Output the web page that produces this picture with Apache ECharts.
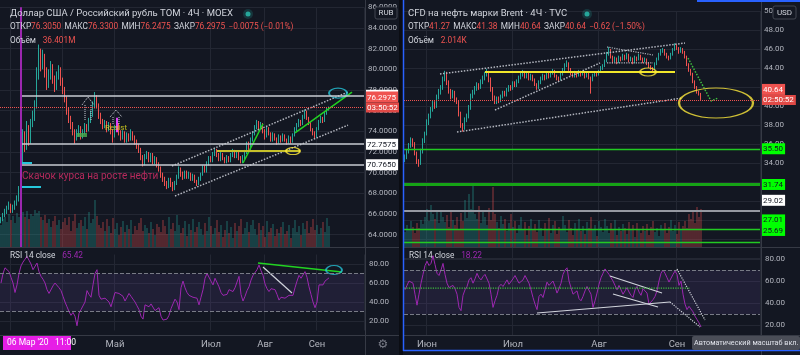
<!DOCTYPE html>
<html><head><meta charset="utf-8">
<script src="https://cdn.jsdelivr.net/npm/echarts/dist/echarts.min.js"></script>
<style>html,body{margin:0;padding:0;background:#131722;overflow:hidden}#c{width:800px;height:355px}</style>
</head><body><div id="c"></div>
<script>
// ---------- DATA ----------
// USD/RUB TOM 4H, [open, close, low, high]
const leftCandles = [
[65.3,65.5,65.1,65.7],[65.5,65.9,65.3,66.1],[65.9,66.2,65.7,66.5],[66.2,66.6,66.0,66.8],[66.6,66.9,66.4,67.2],
[66.9,66.3,66.1,67.0],[66.3,66.6,66.1,66.9],[66.6,67.0,66.4,67.3],[67.0,67.4,66.8,67.8],[67.4,68.4,67.2,68.7],
[68.6,71.5,68.5,72.0],[71.5,73.5,71.0,74.2],[73.5,72.6,72.0,74.0],[72.6,74.3,72.2,75.0],[74.3,73.0,72.6,74.6],
[73.0,74.8,72.8,75.2],[74.8,75.5,74.4,76.0],[75.5,76.5,75.0,77.0],[76.5,79.5,76.2,80.2],[79.5,81.5,79.0,82.4],
[81.5,80.5,79.8,82.0],[80.5,81.2,80.0,81.9],[81.2,79.8,79.2,81.5],[79.8,78.5,78.0,80.2],[78.5,79.5,78.2,80.0],
[79.5,80.3,79.0,80.8],[80.3,79.0,78.6,80.5],[79.0,78.2,77.8,79.4],[78.2,79.3,78.0,79.8],[79.3,80.0,79.0,80.4],
[80.0,78.8,78.4,80.2],[78.8,78.0,77.6,79.2],[78.0,77.2,76.8,78.3],[77.2,76.0,75.6,77.4],[76.0,75.2,74.8,76.3],
[75.2,74.6,74.2,75.5],[74.6,74.0,73.6,74.9],[74.0,73.3,72.8,74.2],[73.3,73.8,73.1,74.2],[73.8,74.3,73.5,74.6],
[74.3,73.6,73.2,74.5],[73.6,73.9,73.3,74.2],[73.9,74.5,73.7,74.8],[74.5,74.2,73.9,74.7],[74.2,75.0,74.0,75.3],
[75.0,75.6,74.8,76.0],[75.6,76.5,75.4,76.9],[76.5,77.3,76.2,77.8],[77.3,76.5,76.2,77.5],[76.5,75.5,75.2,76.7],
[75.5,75.0,74.7,75.8],[75.0,74.5,74.2,75.2],[74.5,74.8,74.3,75.1],[74.8,74.2,73.9,75.0],[74.2,74.6,74.0,74.9],
[74.6,74.0,73.7,74.8],[74.0,73.6,72.9,74.2],[73.6,74.3,73.4,74.6],[74.3,74.6,74.0,74.9],[74.6,73.9,73.6,74.8],
[73.9,73.4,73.1,74.1],[73.4,73.8,73.2,74.1],[73.8,73.1,72.9,74.0],[73.1,73.6,72.9,73.9],[73.6,73.3,73.0,73.8],
[73.3,73.8,73.1,74.2],[73.8,73.4,73.1,74.0],[73.4,73.0,72.7,73.6],[73.0,72.6,72.3,73.2],[72.6,72.2,71.9,72.8],
[72.2,71.5,71.2,72.4],[71.5,70.9,70.6,71.7],[70.9,71.5,70.7,71.8],[71.5,71.8,71.3,72.1],[71.8,71.2,71.0,72.0],
[71.2,71.7,71.0,71.9],[71.7,71.0,70.8,71.9],[71.0,71.4,70.8,71.6],[71.4,70.8,70.5,71.5],[70.8,70.4,70.1,71.0],
[70.4,69.8,69.5,70.6],[69.8,69.4,69.1,70.0],[69.4,69.0,68.7,69.6],[69.0,68.7,68.4,69.2],[68.7,69.3,68.5,69.5],
[69.3,68.9,68.6,69.5],[68.9,68.5,68.2,69.1],[68.5,69.0,68.3,69.2],[69.0,69.6,68.8,69.8],[69.6,70.3,69.4,70.6],
[70.3,69.9,69.6,70.5],[69.9,69.6,69.3,70.1],[69.6,70.0,69.4,70.2],[70.0,69.6,69.4,70.2],[69.6,69.9,69.4,70.1],
[69.9,69.4,69.2,70.0],[69.4,69.7,69.2,69.9],[69.7,69.2,69.0,69.8],[69.2,68.9,68.7,69.3],[68.9,69.4,68.8,69.6],
[69.4,69.8,69.2,70.0],[69.8,70.5,69.7,70.7],[70.5,70.2,70.0,70.7],[70.2,70.9,70.0,71.1],[70.9,71.4,70.7,71.6],
[71.4,71.2,71.0,71.6],[71.2,71.8,71.0,72.0],[71.8,72.2,71.6,72.4],[72.2,71.7,71.5,72.3],[71.7,71.3,71.1,71.9],
[71.3,71.8,71.1,72.0],[71.8,71.4,71.2,71.9],[71.4,71.1,70.9,71.5],[71.1,71.5,70.9,71.7],[71.5,71.2,71.0,71.6],
[71.2,71.7,71.0,71.9],[71.7,72.1,71.5,72.3],[72.1,71.6,71.4,72.2],[71.6,71.9,71.4,72.1],[71.9,71.4,71.2,72.0],
[71.4,71.0,70.9,71.6],[71.0,71.5,70.9,71.7],[71.5,72.0,71.3,72.2],[72.0,72.8,71.8,73.0],[72.8,72.4,72.2,73.0],
[72.4,73.2,72.2,73.4],[73.2,73.8,73.0,74.0],[73.8,74.4,73.6,74.6],[74.4,74.9,74.2,75.1],[74.9,74.5,74.2,75.0],
[74.5,74.7,74.3,74.9],[74.7,74.0,73.8,74.8],[74.0,73.5,73.2,74.2],[73.5,74.3,73.4,74.5],[74.3,73.8,73.6,74.4],
[73.8,73.2,73.0,73.9],[73.2,73.7,73.0,73.9],[73.7,73.3,73.1,73.8],[73.3,72.9,72.7,73.4],[72.9,73.5,72.8,73.7],
[73.5,73.1,72.9,73.6],[73.1,73.6,73.0,73.8],[73.6,73.2,73.0,73.7],[73.2,72.9,72.7,73.3],[72.9,73.4,72.8,73.6],
[73.4,73.0,72.8,73.5],[73.0,73.6,72.9,73.8],[73.6,74.2,73.5,74.4],[74.2,74.6,74.0,74.8],[74.6,75.0,74.4,75.2],
[75.0,74.7,74.5,75.1],[74.7,75.4,74.6,75.6],[75.4,75.9,75.2,76.1],[75.9,75.3,75.1,76.0],[75.3,74.8,74.6,75.4],
[74.8,74.2,74.0,74.9],[74.2,73.8,73.6,74.3],[73.8,73.5,73.3,74.0],[73.5,74.2,73.4,74.4],[74.2,74.9,74.1,75.1],
[74.9,75.3,74.8,75.5],[75.3,75.0,74.8,75.4],[75.0,75.7,74.9,75.9],[75.7,76.1,75.6,76.3],[76.1,76.2975,76.0,76.4]
];
const leftVolume = [
22,28,30,25,33,27,31,24,34,30, 37,35,30,36,28,33,31,37,34,36, 30,27,32,24,28,20,26,31,22,27,
18,25,29,22,30,16,26,33,19,24, 27,21,30,18,35,24,28,47,31,22, 19,25,16,28,21,14,29,18,24,12,
20,26,15,22,18,27,13,21,17,24, 29,16,22,19,14,25,18,12,23,20, 15,27,21,13,30,18,24,16,32,22,
14,19,26,11,23,17,28,15,20,25, 18,12,24,16,30,21,13,19,27,15, 22,10,17,26,14,20,9,24,16,21,
28,13,19,25,15,22,27,18,12,24, 17,21,10,26,15,19,23,11,18,14, 20,25,13,16,22,9,19,27,15,21,
12,24,18,26,14,20,28,17,22,13, 19,25,15,29,21
];
const leftRsi = [
60,70,76,75,72,66,60,50,58,70, 78,82,85,88,84,80,74,76,81,72, 67,64,60,53,49,47,57,60,58,55,
52,46,40,35,30,26,29,25,15,28, 32,30,40,52,48,45,58,70,74,47, 43,42,44,42,40,35,33,50,51,49,
47,46,41,45,49,46,43,40,36,32, 25,22,37,38,35,38,36,31,33,34, 25,21,19,22,26,33,38,43,40,32,
55,62,55,50,47,46,45,46,44,37, 45,53,65,70,72,62,58,65,63,56, 50,47,45,48,53,52,51,55,61,67,
48,41,46,52,56,63,68,70,74,79, 73,68,59,54,51,54,56,53,48,42, 45,47,44,46,47,46,47,55,62,68,
65,66,72,66,56,48,40,34,40,58, 56,58,62,64,65.42
];
// Brent CFD 4H, [open, close, low, high]
const rightCandles = [
[34.3,34.6,34.1,34.9],[34.6,35.2,34.4,35.4],[35.2,35.8,35.0,36.1],[35.8,36.4,35.6,36.7],[36.4,36.0,35.7,36.6],
[36.0,35.0,34.8,36.2],[35.0,34.2,33.9,35.2],[34.2,33.9,33.6,34.4],[33.9,35.2,33.8,35.5],[35.2,36.3,35.0,36.6],
[36.3,37.0,36.1,37.3],[37.0,38.3,36.9,38.6],[38.3,38.9,38.0,39.2],[38.9,39.6,38.7,39.9],[39.6,40.3,39.4,40.6],
[40.3,40.0,39.7,40.5],[40.0,40.9,39.8,41.2],[40.9,41.5,40.7,41.8],[41.5,41.9,41.2,42.2],[41.9,42.8,41.7,43.1],
[42.8,43.4,42.6,43.7],[43.4,42.5,42.2,43.6],[42.5,41.6,41.3,42.7],[41.6,41.0,40.7,41.8],[41.0,41.4,40.8,41.7],
[41.4,40.7,40.4,41.6],[40.7,40.5,40.2,40.9],[40.5,39.2,38.9,40.6],[39.2,38.0,37.7,39.4],[38.0,37.6,37.3,38.2],
[37.6,38.5,37.5,38.8],[38.5,38.9,38.3,39.2],[38.9,39.8,38.7,40.1],[39.8,41.0,39.6,41.3],[41.0,41.4,40.8,41.7],
[41.4,41.8,41.2,42.1],[41.8,42.2,41.6,42.5],[42.2,42.0,41.7,42.4],[42.0,42.5,41.8,42.8],[42.5,42.9,42.3,43.2],
[42.9,43.3,42.7,43.6],[43.3,43.6,43.1,43.9],[43.6,42.8,42.5,43.7],[42.8,41.8,41.5,43.0],[41.8,40.9,40.6,42.0],
[40.9,40.4,40.2,41.1],[40.4,40.8,40.2,41.0],[40.8,40.5,40.3,41.0],[40.5,41.0,40.4,41.2],[41.0,41.4,40.8,41.6],
[41.4,41.2,41.0,41.6],[41.2,41.7,41.0,41.9],[41.7,42.0,41.5,42.2],[42.0,41.8,41.6,42.2],[41.8,42.4,41.7,42.6],
[42.4,42.2,42.0,42.6],[42.2,42.6,42.0,42.8],[42.6,43.0,42.4,43.2],[43.0,43.3,42.8,43.5],[43.3,43.5,43.1,43.8],
[43.5,43.1,42.9,43.7],[43.1,43.4,42.9,43.6],[43.4,42.9,42.7,43.5],[42.9,43.2,42.7,43.4],[43.2,42.8,42.6,43.3],
[42.8,42.3,42.1,42.9],[42.3,41.9,41.7,42.4],[41.9,42.5,41.8,42.7],[42.5,42.9,42.3,43.1],[42.9,43.2,42.7,43.4],
[43.2,42.9,42.7,43.3],[42.9,43.3,42.8,43.5],[43.3,43.1,42.9,43.5],[43.1,43.5,43.0,43.7],[43.5,43.7,43.3,43.9],
[43.7,43.2,43.0,43.8],[43.2,42.9,42.7,43.3],[42.9,42.8,42.6,43.1],[42.8,43.3,42.7,43.5],[43.3,43.8,43.2,44.0],
[43.8,44.3,43.6,44.5],[44.3,44.5,44.1,44.8],[44.5,43.9,43.7,44.6],[43.9,43.4,43.2,44.0],[43.4,43.2,43.0,43.6],
[43.2,43.5,43.0,43.7],[43.5,43.2,43.0,43.6],[43.2,43.6,43.1,43.8],[43.6,43.3,43.1,43.7],[43.3,43.5,43.2,43.7],
[43.5,43.1,42.9,43.6],[43.1,43.4,43.0,43.6],[43.4,43.0,42.8,43.5],[43.0,42.8,41.3,43.1],[42.8,43.2,42.6,43.4],
[43.2,43.4,43.1,43.6],[43.4,43.3,43.1,43.6],[43.3,43.6,43.2,43.8],[43.6,44.0,43.5,44.2],[44.0,44.2,43.8,44.4],
[44.2,44.7,44.1,44.9],[44.7,45.5,44.6,45.7],[45.5,45.9,45.3,46.2],[45.9,45.2,45.0,46.0],[45.2,44.7,44.5,45.3],
[44.7,45.0,44.6,45.2],[45.0,44.6,44.4,45.1],[44.6,45.1,44.5,45.3],[45.1,44.9,44.7,45.2],[44.9,45.3,44.8,45.5],
[45.3,45.0,44.8,45.4],[45.0,45.4,44.9,45.6],[45.4,44.8,44.6,45.5],[44.8,45.0,44.7,45.2],[45.0,44.6,44.4,45.1],
[44.6,45.1,44.5,45.3],[45.1,44.9,44.7,45.2],[44.9,45.3,44.8,45.5],[45.3,45.0,44.8,45.4],[45.0,44.7,44.5,45.1],
[44.7,44.9,44.6,45.1],[44.9,44.5,44.3,45.0],[44.5,44.2,44.0,44.6],[44.2,44.0,43.8,44.3],[44.0,43.9,43.6,44.1],
[43.9,44.4,43.8,44.6],[44.4,44.9,44.3,45.1],[44.9,45.4,44.8,45.6],[45.4,45.8,45.3,46.0],[45.8,45.9,45.6,46.1],
[45.9,45.5,45.3,46.0],[45.5,45.2,45.0,45.6],[45.2,45.0,44.8,45.3],[45.0,45.4,44.9,45.6],[45.4,45.9,45.3,46.1],
[45.9,46.3,45.8,46.6],[46.3,46.1,45.9,46.5],[46.1,45.7,45.5,46.2],[45.7,46.0,45.6,46.2],[46.0,45.7,45.5,46.1],
[45.7,45.2,45.0,45.8],[45.2,44.4,44.2,45.3],[44.4,43.8,43.6,44.5],[43.8,43.4,43.2,43.9],[43.4,42.6,42.4,43.5],
[42.6,42.0,41.8,42.7],[42.0,41.5,41.3,42.1],[41.5,41.27,41.1,41.6],[41.27,40.64,40.64,41.38]
];
const rightVolume = [
15,22,18,26,20,14,24,19,27,23, 30,38,26,42,33,28,35,24,37,30, 25,32,20,36,27,22,30,18,34,26,
47,29,53,38,61,33,28,41,24,36, 30,22,39,27,60,33,25,19,31,23, 28,16,24,33,20,26,14,22,30,18,
25,12,21,28,17,23,15,27,19,11, 24,18,29,14,22,26,13,20,17,31, 22,15,27,19,12,24,18,28,16,21,
13,25,19,30,17,22,11,26,20,15, 28,21,14,24,18,27,12,20,16,23, 19,13,25,17,22,10,24,18,14,21,
16,23,12,20,26,15,19,11,22,17, 24,14,20,27,16,22,13,25,18,21, 26,19,33,28,36,24,40,30,38
];
const rightRsi = [
52,56,60,61,58,48,38,48,58,66, 74,78,74,76,83,75,67,65,70,76, 66,58,54,53,56,53,48,36,33,47,
52,55,61,63,58,62,67,63,61,64, 66,67,58,48,36,42,47,55,57,55, 58,61,57,58,62,65,66,58,57,61,
65,66,58,52,45,39,34,46,48,45, 52,59,56,57,60,55,49,53,58,66, 70,72,60,54,48,49,51,44,42,46,
51,55,54,48,36,42,49,57,63,67, 71,72,66,63,60,56,52,56,55,48, 51,54,50,47,45,52,55,50,47,53,
52,49,39,38,43,46,51,60,67,70, 67,63,59,60,66,69,66,56,60,48, 39,34,37,36,32,28,25,22,18.22
];
// axis ticks / slots
const leftSlots = 182, rightSlots = 178;
const leftTickIdx = [5, 31, 57, 105, 132, 158];
const leftTickLbl = ['', '', 'Май', 'Июл', 'Авг', 'Сен'];
const rightTickIdx = [11, 54, 97, 136];
const rightTickLbl = ['Июн', 'Июл', 'Авг', 'Сен'];
// horizontal levels
const leftWhiteLevels = [77.4825, 72.7575, 70.765];
const leftLast = 76.2975, leftCountdown = '03:50:52';
const rightGreenLevels = [35.50, 31.74, 27.01, 25.69];
const rightGrayLevels = [29.02];
const rightLast = 40.64, rightCountdown = '02:50:52';
const crossIdx = 10;
// drawings [index, value]
const lChanUp = [[85.5, 70.64], [173.5, 77.8]];
const lChanDn = [[87, 67.74], [173.5, 74.6]];
const lGreen1 = [[121, 70.93], [131, 74.71]];
const lGreen2 = [[147, 73.84], [175.5, 77.8]];
const lYellow = [[108, 72.09], [149.5, 72.09]];
const lCyan1 = [[10, 68.61], [20, 68.61]];
const lCyan2 = [[10.5, 70.93], [15.5, 70.93]];
const lArrowA = [[40.5, 76.55], [43.5, 77.32], [46.5, 76.55]];
const lArrowAs = [[[42, 76.55], [42, 75.09]], [[45, 76.55], [45, 75.09]]];
const lArrowB = [[54.5, 75.38], [57.5, 76.06], [60.5, 75.38]];
const lArrowBs = [[[56, 75.38], [56, 74.7]], [[59, 75.38], [59, 74.7]]];
const lMagenta = [[58, 75.3], [58, 73.9]];
const lYellowEll = [146, 72.09], lCyanEll = [168.5, 77.7];
const lNote = [10.5, 69.58];
const lResist = [52, 74.3];
const lGreenBox = [40.5, 73.64];
const lRsiGreen = [[128.5, 81], [170.5, 71.6]];
const lRsiWhite = [[131, 76.8], [145.5, 49.5]];
const lRsiEll = [166.5, 73.7];
const rChanUp = [[17.5, 43.37], [140, 46.63]];
const rChanDn = [[26, 37.26], [138.5, 40.84]];
const rInner = [[45, 39.58], [97.5, 44.53]];
const rFlagTop = [[101, 46.21], [124, 45.37]];
const rFlagBot = [[101, 44.53], [124, 44.53]];
const rYellow = [[40, 43.58], [135, 43.58]];
const rEllSmall = [121.5, 43.58], rEllBig = [155.5, 40.32];
const rGreenDot = [[141.5, 45.05], [153, 40.53], [156.5, 40.84]];
const rRsiW1 = [[66, 30.9], [132.5, 40.9]];
const rRsiW2 = [[102.5, 64.5], [128.5, 49.1]];
const rRsiW3 = [[104, 48.2], [126.5, 36.4]];
const rRsiD1 = [[136, 70.9], [150, 24.5]];
const rRsiD2 = [[132.5, 40.9], [147.5, 18.2]];
const rRsiGreen = [[-0.5, 53.5], [142.5, 53.5]];

// ---------- STYLE ----------
const FONT = 'Roboto, "Noto Sans", sans-serif';
const GRIDC = '#232733', TXT = '#b2b5be', UP = '#26a69a', DN = '#ef5350', RSIC = '#9c27b0';
const AX_FS = 8;

const chart = echarts.init(document.getElementById('c'), null, {renderer: 'canvas'});
const cats = n => Array.from({length: n}, (_, i) => String(i));
function catAxis(g, n, ti, tl, showLbl, margin) {
  return {type: 'category', gridIndex: g, data: cats(n), boundaryGap: true,
    axisLine: {show: false}, axisTick: {show: false},
    axisLabel: {show: showLbl, interval: i => ti.includes(i), formatter: (v, i) => tl[ti.indexOf(i)] || '',
      color: TXT, fontSize: 9.5, margin: margin, fontFamily: FONT},
    splitLine: {show: true, interval: i => ti.includes(i), lineStyle: {color: GRIDC, width: 1}}};
}
const valX = (g, n) => ({type: 'value', gridIndex: g, min: -0.5, max: n - 0.5, show: false});
function vols(c, v) {
  return v.map((x, i) => ({value: x, itemStyle: {color: c[i][1] >= c[i][0] ? 'rgba(38,166,154,0.45)' : 'rgba(239,83,80,0.45)'}}));
}
function seg(xi, yi, pts, color, width, type) {
  return {type: 'line', xAxisIndex: xi, yAxisIndex: yi, data: pts, symbol: 'none', silent: true, z: 4,
    lineStyle: {color: color, width: width, type: type || 'solid'}};
}
function ell(xi, yi, pt, size, color) {
  return {type: 'scatter', xAxisIndex: xi, yAxisIndex: yi, data: [pt], symbol: 'circle', symbolSize: size, silent: true, z: 4,
    itemStyle: {color: 'transparent', borderColor: color, borderWidth: 1.5}};
}
function txt(xi, yi, pt, text, color, size) {
  return {type: 'scatter', xAxisIndex: xi, yAxisIndex: yi, data: [pt], symbolSize: 0, silent: true, z: 5,
    label: {show: true, position: 'right', distance: 0, formatter: text, color: color, fontSize: size, fontFamily: FONT}};
}
function level(xi, yi, x0, x1, val, lc, lw, ltype, lbl, bg, fg, shift) {
  const pad = shift ? '\n{c| }' : '';
  return {type: 'line', xAxisIndex: xi, yAxisIndex: yi, data: [], silent: true, z: 4,
    markLine: {symbol: ['none', 'none'], silent: true, animation: false,
      lineStyle: {color: lc, width: lw, type: ltype},
      label: {show: true, position: 'end', distance: 1, formatter: '{a|' + lbl + '}' + pad,
        rich: {a: {backgroundColor: bg, color: fg, fontSize: AX_FS, fontFamily: FONT, padding: [2, 2, 1, 2]},
               c: {height: shift || 1, fontSize: 8}}},
      data: [[{coord: [x0, val]}, {coord: [x1, val]}]]}};
}
function lastLevel(xi, yi, x0, x1, val, lbl, cd) {
  return {type: 'line', xAxisIndex: xi, yAxisIndex: yi, data: [], silent: true, z: 4,
    markLine: {symbol: ['none', 'none'], silent: true,
      lineStyle: {color: DN, width: 1, type: 'dotted'},
      label: {show: true, position: 'end', distance: 1, formatter: '{a|' + lbl + '}\n{b|' + cd + '}\n{c| }',
        rich: {a: {backgroundColor: DN, color: '#fff', fontSize: AX_FS, fontFamily: FONT, padding: [2, 2, 1, 2]},
               b: {backgroundColor: '#e04946', color: '#fff', fontSize: AX_FS, fontFamily: FONT, padding: [1, 2, 1, 2]},
               c: {height: 11, fontSize: 8}}},
      data: [[{coord: [x0, val]}, {coord: [x1, val]}]]}};
}

const series = [];
// left price
series.push({type: 'candlestick', xAxisIndex: 0, yAxisIndex: 0, data: leftCandles, barWidth: 1.2,
  itemStyle: {color: UP, color0: DN, borderColor: UP, borderColor0: DN, borderWidth: 1},
  markLine: {symbol: ['none', 'none'], silent: true, label: {show: false}, lineStyle: {color: RSIC, width: 2, type: 'solid'}, data: [{xAxis: crossIdx}]}});
series.push({type: 'bar', xAxisIndex: 1, yAxisIndex: 1, data: vols(leftCandles, leftVolume), barWidth: 1.3,
  markLine: {symbol: ['none', 'none'], silent: true, label: {show: false}, lineStyle: {color: RSIC, width: 2, type: 'solid'}, data: [{xAxis: crossIdx}]}});
series.push({type: 'line', xAxisIndex: 2, yAxisIndex: 2, data: leftRsi, symbol: 'none', lineStyle: {color: RSIC, width: 1},
  markArea: {silent: true, itemStyle: {color: 'rgba(126,87,194,0.13)'}, data: [[{yAxis: 30}, {yAxis: 70}]]},
  markLine: {silent: true, symbol: ['none', 'none'], label: {show: false}, lineStyle: {color: '#787b86', type: 'dashed', width: 1}, data: [{yAxis: 70}, {yAxis: 30}]}});
// right
series.push({type: 'candlestick', xAxisIndex: 3, yAxisIndex: 3, data: rightCandles, barWidth: 1.2,
  itemStyle: {color: UP, color0: DN, borderColor: UP, borderColor0: DN, borderWidth: 1}});
series.push({type: 'bar', xAxisIndex: 4, yAxisIndex: 4, data: vols(rightCandles, rightVolume), barWidth: 1.3});
series.push({type: 'line', xAxisIndex: 5, yAxisIndex: 5, data: rightRsi, symbol: 'none', lineStyle: {color: RSIC, width: 1},
  markArea: {silent: true, itemStyle: {color: 'rgba(126,87,194,0.13)'}, data: [[{yAxis: 30}, {yAxis: 70}]]},
  markLine: {silent: true, symbol: ['none', 'none'], label: {show: false}, lineStyle: {color: '#787b86', type: 'dashed', width: 1}, data: [{yAxis: 70}, {yAxis: 30}]}});

// left drawings (xAxis 6 / yAxis 0)
leftWhiteLevels.forEach(v => series.push(level(6, 0, 10.5, leftSlots - 0.5, v, '#c9ccd3', 1.5, 'solid', v.toFixed(4), '#ffffff', '#131722', 0)));
series.push(lastLevel(6, 0, -0.5, leftSlots - 0.5, leftLast, leftLast.toFixed(4), leftCountdown));
series.push(seg(6, 0, lChanUp, '#b2b5be', 1.5, 'dotted'));
series.push(seg(6, 0, lChanDn, '#b2b5be', 1.5, 'dotted'));
series.push(seg(6, 0, lGreen1, '#22d322', 1.5));
series.push(seg(6, 0, lGreen2, '#22d322', 1.5));
series.push(seg(6, 0, lYellow, '#c6c02a', 2));
series.push(seg(6, 0, lCyan1, '#26c6da', 2));
series.push(seg(6, 0, lCyan2, '#26c6da', 2));
series.push(seg(6, 0, lArrowA, '#d1d4dc', 1, 'dotted'));
lArrowAs.forEach(s => series.push(seg(6, 0, s, '#d1d4dc', 1, 'dotted')));
series.push(seg(6, 0, lArrowB, '#d1d4dc', 1, 'dotted'));
lArrowBs.forEach(s => series.push(seg(6, 0, s, '#d1d4dc', 1, 'dotted')));
series.push(seg(6, 0, lMagenta, '#e040fb', 2));
series.push(ell(6, 0, lYellowEll, [14, 7], '#ffeb3b'));
series.push(ell(6, 0, lCyanEll, [18, 10], '#26c6da'));
series.push({type: 'scatter', xAxisIndex: 6, yAxisIndex: 0, data: [lGreenBox], symbol: 'rect', symbolSize: [10, 4], silent: true, z: 4, itemStyle: {color: '#4caf50'}});
series.push(txt(6, 0, lResist, 'Resist', '#e6e21e', 8));
series.push(txt(6, 0, lNote, 'Скачок курса на росте нефти', '#e0306b', 10));
// left RSI drawings (xAxis 7 / yAxis 2)
series.push(seg(7, 2, lRsiGreen, '#22d322', 1.5));
series.push(seg(7, 2, lRsiWhite, '#d1d4dc', 1.2));
series.push(ell(7, 2, lRsiEll, [16, 9], '#26c6da'));
// right drawings (xAxis 8 / yAxis 3)
const greenShift = [0, 0, 19, 23];
rightGreenLevels.forEach((v, i) => series.push(level(8, 3, -0.5, rightSlots - 0.5, v, i === 1 ? '#16a316' : '#22c922', i === 1 ? 3 : 1.3, 'solid', v.toFixed(2), '#00ff00', '#131722', greenShift[i])));
rightGrayLevels.forEach(v => series.push(level(8, 3, -0.5, rightSlots - 0.5, v, '#9598a1', 2, 'solid', v.toFixed(2), '#ffffff', '#131722', 20)));
series.push(lastLevel(8, 3, -0.5, rightSlots - 0.5, rightLast, rightLast.toFixed(2), rightCountdown));
series.push(seg(8, 3, rChanUp, '#b2b5be', 1.5, 'dotted'));
series.push(seg(8, 3, rChanDn, '#b2b5be', 1.5, 'dotted'));
series.push(seg(8, 3, rInner, '#b2b5be', 1.5, 'dotted'));
series.push(seg(8, 3, rFlagTop, '#b2b5be', 1.2, 'dotted'));
series.push(seg(8, 3, rFlagBot, '#b2b5be', 1.2, 'dotted'));
series.push(seg(8, 3, rYellow, '#f0e62a', 2));
series.push(ell(8, 3, rEllSmall, [16, 8], '#ffeb3b'));
series.push(ell(8, 3, rEllBig, [74, 30], '#ffeb3b'));
series.push(seg(8, 3, rGreenDot, '#3fbf3f', 1.5, 'dotted'));
// right RSI drawings (xAxis 9 / yAxis 5)
series.push(seg(9, 5, rRsiW1, '#d1d4dc', 1.2));
series.push(seg(9, 5, rRsiW2, '#d1d4dc', 1.2));
series.push(seg(9, 5, rRsiW3, '#d1d4dc', 1.2));
series.push(seg(9, 5, rRsiD1, '#d1d4dc', 1.2, 'dotted'));
series.push(seg(9, 5, rRsiD2, '#d1d4dc', 1.2, 'dotted'));
series.push(seg(9, 5, rRsiGreen, '#3fbf3f', 1.2, 'dotted'));

const priceAxis = (g, min, max, dec, hideBelow) => ({type: 'value', gridIndex: g, position: 'right', min: min, max: max, interval: 2,
  axisLine: {show: false}, axisTick: {show: false},
  axisLabel: {color: TXT, fontSize: AX_FS, margin: 4, fontFamily: FONT, formatter: v => v < hideBelow ? '' : v.toFixed(dec)},
  splitLine: {lineStyle: {color: GRIDC, width: 1}}});
const rsiAxis = g => ({type: 'value', gridIndex: g, position: 'right', min: 10, max: 90, interval: 10,
  axisLine: {show: false}, axisTick: {show: false},
  axisLabel: {color: TXT, fontSize: AX_FS, margin: 5, fontFamily: FONT, formatter: v => (v % 20 === 0 && v >= 20 && v <= 80) ? v.toFixed(2) : ''},
  splitLine: {lineStyle: {color: ['transparent', GRIDC], width: 1}}});

const G = (l, t, w, h) => ({left: l, top: t, width: w, height: h, containLabel: false, outerBoundsMode: 'none'});
const HF = 8.3;
const rich2 = c => ({l: {fill: '#d1d4dc', fontSize: HF, fontFamily: FONT}, v: {fill: c, fontSize: HF, fontFamily: FONT}});

const option = {
  backgroundColor: '#131722', animation: false,
  textStyle: {fontFamily: FONT},
  grid: [G(0, 7.34, 364, 227.26), G(0, 197, 364, 50), G(0, 254.5, 364, 76),
         G(404, 11, 356, 247), G(404, 183, 356, 64), G(404, 248, 356, 88)],
  xAxis: [catAxis(0, leftSlots, leftTickIdx, leftTickLbl, false, 0),
          catAxis(1, leftSlots, leftTickIdx, leftTickLbl, false, 0),
          catAxis(2, leftSlots, leftTickIdx, leftTickLbl, true, 9.5),
          catAxis(3, rightSlots, rightTickIdx, rightTickLbl, false, 0),
          catAxis(4, rightSlots, rightTickIdx, rightTickLbl, false, 0),
          catAxis(5, rightSlots, rightTickIdx, rightTickLbl, true, 4),
          valX(0, leftSlots), valX(2, leftSlots), valX(3, rightSlots), valX(5, rightSlots)],
  yAxis: [priceAxis(0, 64, 86, 4, 0),
          {type: 'value', gridIndex: 1, min: 0, max: 50, show: false},
          rsiAxis(2),
          priceAxis(3, 24, 50, 2, 27),
          {type: 'value', gridIndex: 4, min: 0, max: 64, show: false},
          rsiAxis(5)],
  series: series,
  graphic: [
    {type: 'rect', z: 90, shape: {x: 399, y: 0, width: 4, height: 355}, style: {fill: '#0b0d13'}},
    {type: 'line', z: 90, shape: {x1: 365.5, y1: 0, x2: 365.5, y2: 355}, style: {stroke: '#363a45', lineWidth: 1}},
    {type: 'line', z: 90, shape: {x1: 761.5, y1: 0, x2: 761.5, y2: 355}, style: {stroke: '#363a45', lineWidth: 1}},
    {type: 'line', z: 90, shape: {x1: 0, y1: 247.5, x2: 399, y2: 247.5}, style: {stroke: '#363a45', lineWidth: 1}},
    {type: 'line', z: 90, shape: {x1: 404, y1: 247.5, x2: 800, y2: 247.5}, style: {stroke: '#363a45', lineWidth: 1}},
    {type: 'line', z: 90, shape: {x1: 0, y1: 335.5, x2: 399, y2: 335.5}, style: {stroke: '#363a45', lineWidth: 1}},
    {type: 'line', z: 90, shape: {x1: 404, y1: 335.5, x2: 800, y2: 335.5}, style: {stroke: '#363a45', lineWidth: 1}},
    {type: 'line', z: 95, shape: {x1: 403.5, y1: 0, x2: 403.5, y2: 351}, style: {stroke: '#2962ff', lineWidth: 1.5}},
    {type: 'line', z: 95, shape: {x1: 403, y1: 350.5, x2: 800, y2: 350.5}, style: {stroke: '#2962ff', lineWidth: 1.5}},
    {type: 'rect', z: 95, shape: {x: 697, y: 0, width: 103, height: 2}, style: {fill: '#2962ff'}},
    // headers left
    {type: 'text', z: 100, x: 10, y: 14, style: {text: 'Доллар США / Российский рубль TOM · 4Ч · MOEX', fill: '#d1d4dc', fontSize: 9.5, fontFamily: FONT, verticalAlign: 'middle'}},
    {type: 'circle', z: 100, shape: {cx: 248, cy: 14, r: 5}, style: {fill: 'rgba(38,166,154,0.22)'}},
    {type: 'circle', z: 100, shape: {cx: 248, cy: 14, r: 2.5}, style: {fill: '#26a69a'}},
    {type: 'text', z: 100, x: 10, y: 27, style: {text: '{l|ОТКР}{v|76.3050} {l|МАКС}{v|76.3300} {l|МИН}{v|76.2475} {l|ЗАКР}{v|76.2975} {v|−0.0075 (−0.01%)}',
      rich: rich2('#ef5350'), verticalAlign: 'middle'}},
    {type: 'text', z: 100, x: 10, y: 41, style: {text: '{l|Объём}  {v|36.401M}', rich: rich2('#ef5350'), verticalAlign: 'middle'}},
    // headers right
    {type: 'text', z: 100, x: 408, y: 14, style: {text: 'CFD на нефть марки Brent · 4Ч · TVC', fill: '#d1d4dc', fontSize: 9.5, fontFamily: FONT, verticalAlign: 'middle'}},
    {type: 'circle', z: 100, shape: {cx: 587, cy: 14, r: 5}, style: {fill: 'rgba(38,166,154,0.22)'}},
    {type: 'circle', z: 100, shape: {cx: 587, cy: 14, r: 2.5}, style: {fill: '#26a69a'}},
    {type: 'text', z: 100, x: 408, y: 27, style: {text: '{l|ОТКР}{v|41.27} {l|МАКС}{v|41.38} {l|МИН}{v|40.64} {l|ЗАКР}{v|40.64} {v|−0.62 (−1.50%)}',
      rich: rich2('#ef5350'), verticalAlign: 'middle'}},
    {type: 'text', z: 100, x: 408, y: 41, style: {text: '{l|Объём}  {v|2.014K}', rich: rich2('#ef5350'), verticalAlign: 'middle'}},
    // RSI titles
    {type: 'text', z: 100, x: 10, y: 256, style: {text: '{l|RSI 14 close}  {v|65.42}', rich: rich2(RSIC), verticalAlign: 'middle'}},
    {type: 'text', z: 100, x: 409, y: 256, style: {text: '{l|RSI 14 close}  {v|18.22}', rich: rich2(RSIC), verticalAlign: 'middle'}},
    // currency boxes
    {type: 'rect', z: 100, shape: {x: 375, y: 7, width: 22, height: 12, r: 2}, style: {fill: '#131722', stroke: '#434651', lineWidth: 1}},
    {type: 'text', z: 101, x: 386, y: 13, style: {text: 'RUB', fill: '#d1d4dc', fontSize: 8, fontFamily: FONT, align: 'center', verticalAlign: 'middle'}},
    {type: 'rect', z: 100, shape: {x: 773, y: 6, width: 23, height: 13, r: 2}, style: {fill: '#131722', stroke: '#434651', lineWidth: 1}},
    {type: 'text', z: 101, x: 784.5, y: 12.5, style: {text: 'USD', fill: '#d1d4dc', fontSize: 8, fontFamily: FONT, align: 'center', verticalAlign: 'middle'}},
    // crosshair date box
    {type: 'rect', z: 100, shape: {x: 3, y: 336, width: 68, height: 14}, style: {fill: '#e61ee6'}},
    {type: 'text', z: 101, x: 7, y: 343, style: {text: "06 Мар '20   11:00", fill: '#ffffff', fontSize: 8.5, fontFamily: FONT, verticalAlign: 'middle'}},
    // gear
    {type: 'text', z: 100, x: 383, y: 345, style: {text: '⚙', fill: '#787b86', fontSize: 12, fontFamily: 'DejaVu Sans', align: 'center', verticalAlign: 'middle'}},
    // tooltip
    {type: 'rect', z: 100, shape: {x: 692, y: 336, width: 108, height: 14, r: 2}, style: {fill: '#4a4d57'}},
    {type: 'text', z: 101, x: 694, y: 343, style: {text: 'Автоматический масштаб вкл.', fill: '#e0e3eb', fontSize: 7.2, fontFamily: FONT, verticalAlign: 'middle'}}
  ]
};
chart.setOption(option);
</script></body></html>
